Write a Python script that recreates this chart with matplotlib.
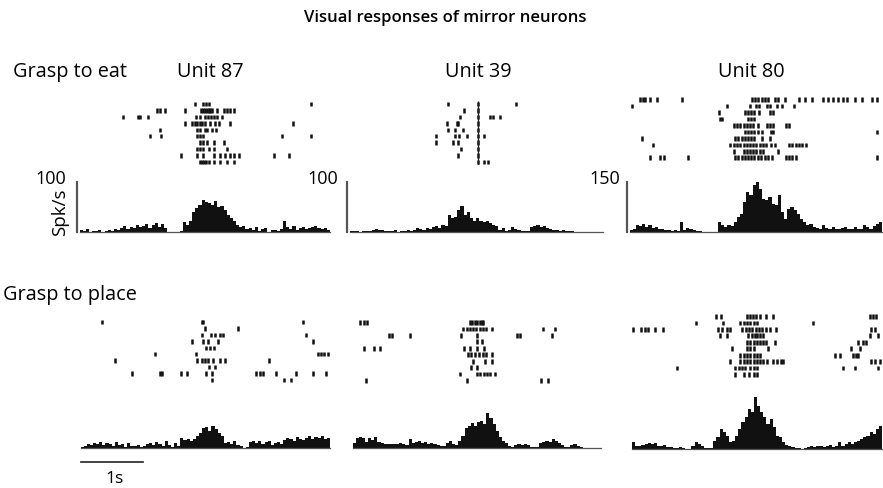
import matplotlib
matplotlib.use("Agg")
import matplotlib.pyplot as plt
import numpy as np

plt.rcParams['font.family'] = ['Open Sans', 'DejaVu Sans']

# ---------------- data ----------------
units = ["Unit 87", "Unit 39", "Unit 80"]
conditions = ["Grasp to eat", "Grasp to place"]
scale_max = [100, 100, 150]          # spk/s, full scale of histogram
time_window = [-2.0, 2.0]            # seconds

# histograms (spk/s), 80 bins over the window
hist_eat_87 = [4, 2, 6, 0, 3, 2, 4, 0, 3, 5, 2, 6, 4,
               8, 12, 6, 10, 8, 14, 10, 12, 16, 8, 14, 18, 10, 16, 8,
               0, 0, 0, 0, 2,
               20, 14, 22,
               40, 48, 55, 65, 60, 58, 55, 62, 50, 52, 45, 35, 28, 22, 15,
               10, 12, 6, 8, 4, 10, 2, 6, 8, 0, 4, 5, 3, 6, 22, 10, 6, 12, 4, 8, 10, 6, 8, 10, 12, 8, 6, 8, 4]
hist_eat_39 = [2, 3, 2, 1, 2, 3, 2, 4, 6, 5, 4, 2, 3, 2, 4, 1, 2, 3, 4, 3, 5, 8, 6, 4, 8, 6, 10, 12, 8,
               14, 12,
               35, 28, 30, 45, 52, 35, 40, 28, 22, 28, 22, 20, 22, 18, 14, 12,
               5, 8, 3, 4, 10, 6, 4,
               2, 2, 2,
               10, 12, 14, 10, 12, 8, 6, 4,
               4, 3, 4, 3, 2, 2,
               1, 1, 1, 0, 1, 1, 0, 1, 0]
hist_eat_80 = [5, 10,
               20, 18, 25, 15, 20, 12,
               15, 10, 8, 6, 5, 4, 6, 3,
               30,
               5, 12, 10, 6, 3, 2,
               1, 1, 0, 1, 0,
               30, 20, 15, 22, 18, 30,
               45, 55, 90, 120,
               110, 140, 150, 130,
               100, 95, 105, 85, 80,
               110, 60, 40,
               70, 75, 65, 55, 40, 30,
               20, 25, 15, 12,
               10, 20, 12, 8, 15, 10, 8, 12, 14, 8, 10, 16, 10, 8, 20, 15, 8, 18, 25, 30]
hist_place_87 = [2, 5, 8, 6, 10, 8, 12, 6, 10, 8, 5, 12, 6, 8, 3, 10, 5, 4, 6, 2, 5, 8, 10, 6, 12, 8, 5, 14, 6, 2, 10, 4,
                 20, 16, 18, 14, 18,
                 25, 30, 40, 42, 35, 45, 38, 30, 25,
                 10, 12, 8, 14, 6, 5, 0, 2,
                 12, 14, 10, 15, 8, 12, 14, 6, 10, 12, 8, 16, 20, 18, 15, 22, 18, 16, 20, 24, 18, 22, 20, 25, 18, 20]
hist_place_39 = [10, 20, 23, 20, 13, 20, 17, 23,
                 12, 10, 8, 9, 8, 8, 9, 10, 8, 6,
                 18, 10, 12, 14, 10, 12, 8, 10, 8, 6, 4,
                 4, 10, 14, 8, 6,
                 14, 25, 40, 45, 50, 45, 52, 55, 48, 70, 60, 48, 35, 22, 15, 10,
                 4, 3, 6, 8, 6, 8, 6, 3, 2, 3, 10, 12,
                 14, 12, 18, 14, 10, 6, 3,
                 2, 6, 8, 4, 2, 1, 1, 0, 1, 0, 1]
hist_place_80 = [20, 10, 10, 12, 15, 18, 15, 18, 10, 8, 12,
                 5, 6, 4, 3, 5, 2, 1, 1,
                 10, 20, 15, 8, 3,
                 2, 3,
                 25, 35, 60, 50, 40, 20, 25, 40,
                 60, 80, 95, 120, 110, 155, 130, 110, 95, 75, 90, 65, 40, 35,
                 20, 12, 10, 5, 3, 2, 1, 4, 5, 8, 6,
                 8, 10, 6, 8, 12, 5, 8, 20, 10, 15, 20,
                 15, 20, 25, 30, 35, 40, 50, 45, 60, 70]

# rasters: spike times (s) per trial
raster_eat_87 = [
    [-0.16, -0.02, 0.02, 0.06, 1.69],
    [-0.76, -0.72, -0.63, -0.31, -0.06, -0.03, 0.0, 0.03, 0.06, 0.09, 0.12, 0.19, 0.30, 0.35, 0.41, 0.46],
    [-1.31, -1.07, -1.03, -0.90, -0.14, -0.07, 0.0, 0.05, 0.10, 0.15, 0.20, 0.28],
    [-0.31, -0.20, -0.16, -0.12, -0.08, -0.04, 0.0, 0.08, 0.17, 0.22, 0.41, 1.41],
    [-0.71, -0.12, -0.07, 0.01, 0.03, 0.11, 0.18],
    [-0.87, -0.70, -0.12, -0.07, -0.03, 1.23, 1.69],
    [-0.07, -0.02, 0.03, 0.14, 0.30],
    [-0.12, -0.07, -0.02, 0.06, 0.14, 0.35],
    [-0.38, -0.12, -0.02, 0.14, 0.25, 0.33, 0.41, 0.46, 0.54, 1.11, 1.35],
    [-0.08, -0.05, -0.01, 0.02, 0.06, 0.14, 0.25, 0.35, 0.46],
]
raster_eat_39 = [
    [-0.44, 0.02, 0.62],
    [-0.19, 0.02],
    [-0.26, 0.02, 0.21, 0.26, 0.38],
    [-0.46, -0.31, -0.29, 0.02],
    [-0.44, -0.34, -0.21, 0.02],
    [-0.63, -0.34, -0.27, -0.14, 0.02, 0.13],
    [-0.63, -0.36, -0.29, 0.02],
    [-0.24, 0.02],
    [-0.29, 0.02],
    [0.02, 0.12, 0.19],
]
raster_eat_80 = [
    [-1.83, -1.78, -1.75, -1.67, -1.56, -1.17, -0.06, -0.01, 0.04, 0.10, 0.15, 0.20, 0.31, 0.36, 0.47,
     0.68, 0.78, 0.89, 1.07, 1.15, 1.23, 1.31, 1.39, 1.44, 1.57, 1.68, 1.84, 1.92],
    [-1.96, -0.46, -0.09, 0.0, 0.05, 0.18, 0.22, 0.33, 0.41, 0.60],
    [-0.59, -0.17, -0.12, -0.07, -0.02, 0.05, 0.22, 0.27],
    [-0.56, -0.53, -0.12, -0.07, -0.02],
    [-0.35, -0.30, -0.25, -0.19, -0.14, -0.09, -0.04, 0.04, 0.18, 0.22, 0.27, 0.48, 0.53],
    [-0.17, -0.12, -0.07, -0.02, 0.03, 0.10, 0.24, 0.27, 1.92],
    [-1.80, -0.33, -0.28, -0.22, -0.17, -0.12, -0.07, -0.02, 0.10, 0.22],
    [-1.62, -0.41, -0.35, -0.30, -0.25, -0.19, -0.14, -0.09, -0.04, 0.01, 0.07, 0.12, 0.17, 0.24, 0.30,
     0.53, 0.58, 0.63, 0.69, 0.74, 0.79],
    [-0.35, -0.19, -0.14, -0.09, -0.04, 0.01, 0.07, 0.12, 0.36],
    [-1.67, -1.51, -1.46, -1.07, -0.33, -0.28, -0.22, -0.17, -0.12, -0.07, -0.02, 0.03, 0.09, 0.14, 0.20, 0.25,
     0.48, 0.53, 0.58, 0.63, 1.92],
]
raster_place_87 = [
    [-1.65, -0.05, -0.03, 1.56],
    [0.0, 0.52],
    [-0.05, 0.10, 0.16, 0.23, 0.29, 1.61],
    [-0.22, -0.03, 0.04, 0.20, 1.72],
    [0.02, 0.08, 0.14],
    [-0.80, -0.15, 1.80, 1.85, 1.90, 1.97],
    [-1.45, -0.14, -0.06, 0.0, 0.05, 0.13, 0.23, 0.32, 1.02],
    [0.06, 0.16],
    [-1.17, -0.72, -0.70, -0.39, -0.30, 0.01, 0.11, 0.82, 0.87, 0.92, 1.14, 1.46, 1.72, 1.93],
    [0.11, 1.27, 1.38],
]
raster_place_39 = [
    [-1.88, -1.82, -1.77, -0.11, -0.08, -0.03, 0.0, 0.05, 0.08, 0.10],
    [-0.22, -0.16, -0.11, -0.06, -0.01, 0.05, 0.10, 0.15, 0.24, 1.06, 1.25],
    [-1.42, -1.37, -1.08, -0.25, 0.0, 0.64, 0.69, 1.20],
    [0.0, 0.08],
    [-1.81, -1.66, -1.56, -0.21, -0.11, 0.0, 0.11],
    [-0.14, -0.09, -0.03, 0.03, 0.09, 0.15, 0.24],
    [-0.06, 0.13, 0.24],
    [-0.09, 0.0],
    [-0.27, 0.0, 0.05, 0.11, 0.16, 0.21, 0.29],
    [-1.78, -0.16, 1.03, 1.14],
]
raster_place_80 = [
    [-0.65, -0.58, -0.16, -0.11, -0.07, -0.02, 0.04, 0.15, 0.26, 1.81, 1.86, 1.91],
    [-0.98, -0.55, -0.27, -0.21, -0.16, -0.11, -0.05, 0.0, 0.90],
    [-1.98, -1.85, -1.79, -1.74, -1.63, -1.50, -0.62, -0.56, -0.48, -0.43, -0.24, -0.18, -0.13, -0.08,
     -0.02, 0.03, 0.08, 0.14, 0.20, 0.30, 1.82, 1.89],
    [-0.59, -0.48, -0.14, -0.08, -0.03, 0.0, 0.05, 0.10, 1.81, 1.93],
    [-0.16, -0.11, -0.05, 0.0, 0.05, 0.10, 0.15, 0.29, 1.62, 1.70, 1.75],
    [-0.40, -0.16, -0.11, -0.05, 0.18, 1.51, 1.65],
    [-0.27, -0.21, -0.16, -0.11, -0.05, 0.0, 0.05, 1.24, 1.32, 1.53, 1.58, 1.62],
    [-0.43, -0.27, -0.21, -0.16, -0.11, -0.05, 0.0, 0.05, 0.10, 0.16, 0.26, 0.32, 0.38, 0.42, 1.83, 1.89, 1.97],
    [-1.28, -0.35, -0.29, -0.24, -0.19, -0.11, -0.05, 0.0, 1.37, 1.57, 1.94],
    [-0.35, -0.21, -0.13, -0.05, 0.0],
]
unit39_event_time = 0.02   # vertical marker visible in Unit 39 raster (grasp to eat)

hists = [[hist_eat_87, hist_eat_39, hist_eat_80],
         [hist_place_87, hist_place_39, hist_place_80]]
rasters = [[raster_eat_87, raster_eat_39, raster_eat_80],
           [raster_place_87, raster_place_39, raster_place_80]]

# ---------------- layout (pixels) ----------------
W, H = 883, 489
fig = plt.figure(figsize=(W / 100, H / 100), dpi=100)


def add_ax(x0, y0, x1, y1):
    ax = fig.add_axes([x0 / W, 1 - y1 / H, (x1 - x0) / W, (y1 - y0) / H])
    ax.set_axis_off()
    return ax


panel_x = [[(79.5, 330), (349.5, 603), (629.5, 882)],
           [(80.5, 330), (352.5, 601.5), (632, 882)]]
raster_rows = [[(105, 163), (105, 163), (100.7, 158.7)],
               [(323, 381), (323.3, 381.7), (317.3, 375.7)]]
baselines = [[233, 233, 233], [449, 449, 450]]
hist_h = 50

hist_axes = {}
for r in range(2):
    for c in range(3):
        x0, x1 = panel_x[r][c]
        # raster
        y_first, y_last = raster_rows[r][c]
        trials = rasters[r][c]
        n = len(trials)
        s = (y_last - y_first) / (n - 1)
        axr = add_ax(x0, y_first - s / 2, x1, y_last + s / 2)
        axr.eventplot(trials, lineoffsets=np.arange(1, n + 1), linelengths=0.7,
                      linewidths=1.8, colors='#111111')
        if r == 0 and c == 1:
            axr.vlines(unit39_event_time, 0.6, n + 0.4, color='#222222', lw=0.9)
        axr.set_xlim(*time_window)
        axr.set_ylim(n + 0.5, 0.5)

        # histogram
        b = baselines[r][c]
        axh = add_ax(x0, b - hist_h, x1, b)
        vals = np.array(hists[r][c], dtype=float)
        edges = np.linspace(time_window[0], time_window[1], len(vals) + 1)
        axh.bar(edges[:-1], vals, width=np.diff(edges), align='edge',
                color='#111111', edgecolor='none', clip_on=False)
        axh.plot(time_window, [0, 0], color='#555555', lw=0.9, clip_on=False)
        axh.set_xlim(*time_window)
        axh.set_ylim(0, scale_max[c])
        if r == 0:
            xb = time_window[0] - 0.04
            axh.plot([xb, xb], [0, scale_max[c]],
                     color='#555555', lw=1.6, clip_on=False)
        hist_axes[(r, c)] = axh

# time scale bar (1 s) under bottom-left panel
axs = hist_axes[(1, 0)]
per_px = scale_max[0] / hist_h
axs.plot([-2.0, -1.0], [-14 * per_px, -14 * per_px], color='#222222', lw=1.2, clip_on=False)
axs.text(-1.45, -30 * per_px, "1s", ha='center', va='center', fontsize=12.5, clip_on=False)

# ---------------- text ----------------
def ftext(x, y, s, **kw):
    fig.text(x / W, 1 - y / H, s, **kw)

ftext(445, 18, "Visual responses of mirror neurons", ha='center', va='center',
      fontsize=12, fontweight='semibold')
ftext(13, 72, conditions[0], ha='left', va='center', fontsize=14.3)
ftext(3, 295, conditions[1], ha='left', va='center', fontsize=14.3)
for cx, u in zip([210, 478, 751], units):
    ftext(cx, 72, u, ha='center', va='center', fontsize=14.3)
for rx, c in zip([66, 338, 620], range(3)):
    ftext(rx, 179, str(scale_max[c]), ha='right', va='center', fontsize=13)
ftext(60, 212, "Spk/s", ha='center', va='center', fontsize=13.5, rotation=90)

fig.savefig("out.png", dpi=100)
